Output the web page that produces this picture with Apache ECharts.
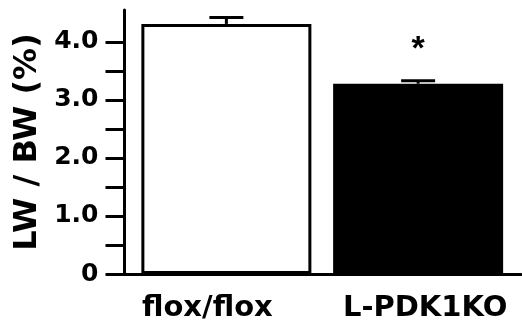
<!DOCTYPE html>
<html><head><meta charset="utf-8">
<script src="https://cdn.jsdelivr.net/npm/echarts@6/dist/echarts.min.js"></script>
<style>html,body{margin:0;padding:0;background:#fff}#c{width:522px;height:326px}</style>
</head><body><div id="c"></div>
<script>
const categories = ['flox/flox', 'L-PDK1KO'];
const means = [4.31, 3.28];
const errors = [0.11, 0.05];
const barColors = ['#ffffff', '#000000'];
const sigMarks = ['', '*'];
const sigLevel = [null, 3.97];
const yTicks = [0, 0.5, 1, 1.5, 2, 2.5, 3, 3.5, 4];
const yLabels = [0, 1, 2, 3, 4];
const yMax = 4.55;
const yTitle = 'LW / BW (%)';

const FONT = 'DejaVu Sans';
const chart = echarts.init(document.getElementById('c'), null, {renderer: 'canvas'});
chart.setOption({
  animation: false,
  backgroundColor: '#fff',
  grid: [
    {left: 130.5, right: 8, top: 10, bottom: 52},
    {left: 124.5, right: 1, top: 10, bottom: 52}
  ],
  xAxis: [
    {type: 'category', gridIndex: 0, data: categories,
     axisLine: {show: false}, axisTick: {show: false},
     axisLabel: {interval: 0, hideOverlap: false, margin: 20, color: '#000', fontFamily: FONT, fontWeight: 'bold', fontSize: 29,
       formatter: (v, i) => i === 0 ? '{a|' + v + '}' : '{b|' + v + '}',
       rich: {
         a: {fontFamily: FONT, fontWeight: 'bold', fontSize: 29, color: '#000', padding: [0, 38, 0, 0]},
         b: {fontFamily: FONT, fontWeight: 'bold', fontSize: 29, color: '#000', padding: [0, 0, 0, 14]}
       }}},
    {type: 'value', gridIndex: 1, min: 0, max: 1,
     axisLine: {show: true, lineStyle: {color: '#000', width: 3}},
     axisTick: {show: false}, axisLabel: {show: false}, splitLine: {show: false}}
  ],
  yAxis: [
    {type: 'value', gridIndex: 0, min: 0, max: yMax, show: false, splitLine: {show: false}},
    {type: 'value', gridIndex: 1, min: 0, max: yMax,
     name: yTitle, nameLocation: 'middle', nameGap: 80,
     nameTextStyle: {color: '#000', fontFamily: FONT, fontWeight: 'bold', fontSize: 32},
     axisLine: {show: true, lineStyle: {color: '#000', width: 3}},
     axisTick: {show: true, inside: false, length: 19, lineStyle: {color: '#000', width: 3}, customValues: yTicks},
     axisLabel: {show: true, margin: 26, color: '#000', fontFamily: FONT, fontWeight: 'bold', fontSize: 25,
       customValues: yLabels, formatter: v => v === 0 ? '0' : v.toFixed(1)},
     splitLine: {show: false}}
  ],
  series: [
    {type: 'bar', xAxisIndex: 0, yAxisIndex: 0, barWidth: 170,
     data: means.map((v, i) => ({value: v, itemStyle: {color: barColors[i], borderColor: '#000', borderWidth: 3}}))},
    {type: 'custom', xAxisIndex: 0, yAxisIndex: 0, z: 5,
     data: means.map((v, i) => [i, v, v + errors[i]]),
     renderItem: (params, api) => {
       const base = api.coord([api.value(0), api.value(1)]);
       const top = api.coord([api.value(0), api.value(2)]);
       const hw = 17;
       return {type: 'group', children: [
         {type: 'line', shape: {x1: base[0], y1: base[1], x2: top[0], y2: top[1]}, style: {stroke: '#000', lineWidth: 3}},
         {type: 'line', shape: {x1: top[0] - hw, y1: top[1], x2: top[0] + hw, y2: top[1]}, style: {stroke: '#000', lineWidth: 3}}
       ]};
     }},
    {type: 'custom', xAxisIndex: 0, yAxisIndex: 0, z: 6,
     data: sigMarks.map((m, i) => [i, sigLevel[i] == null ? 0 : sigLevel[i], m]),
     renderItem: (params, api) => {
       const i = params.dataIndex;
       if (!sigMarks[i]) return null;
       const p = api.coord([api.value(0), api.value(1)]);
       return {type: 'text', x: p[0], y: p[1] + 6, style: {text: sigMarks[i], fill: '#000',
         font: 'bold 34px "Liberation Sans"', align: 'center', verticalAlign: 'middle'}};
     }}
  ]
});
</script></body></html>
